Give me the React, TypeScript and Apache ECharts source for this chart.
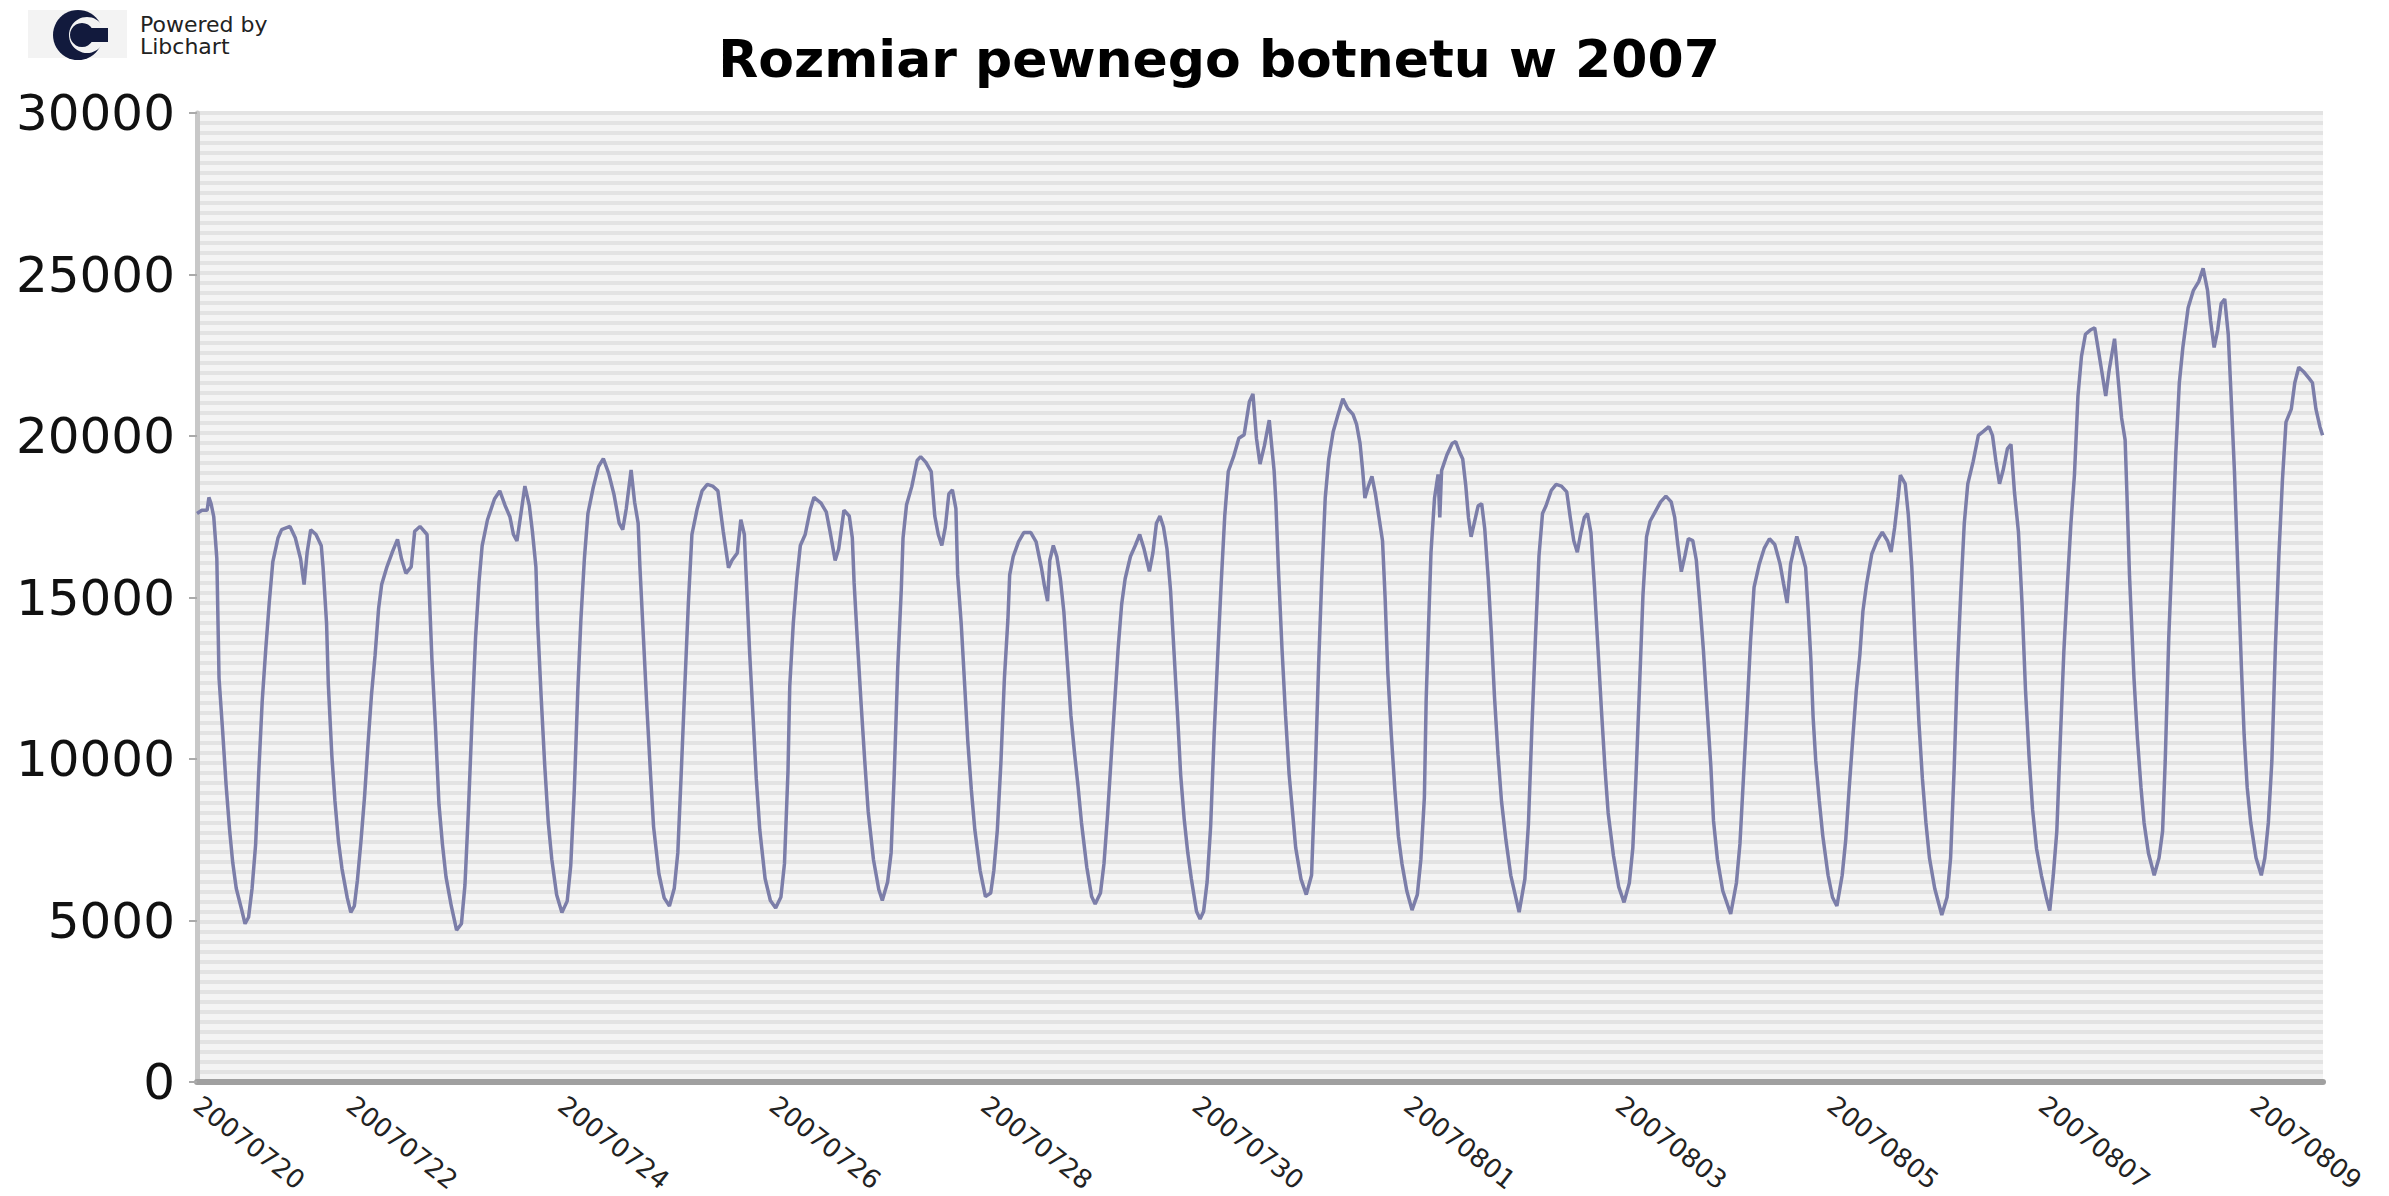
import React, { useEffect, useRef } from 'react';
import * as echarts from 'echarts';

// hours since 2007-07-20 00:00
const sampleHours = [
  13.3, 14.4, 15.6, 16.0, 16.5, 17.1, 17.8, 18.3, 19.1, 19.9, 20.7, 21.4, 22.2, 23.4, 24.2, 25.0, 25.8, 26.6, 27.3, 28.1,
  28.9, 29.7, 30.5, 31.7, 32.5, 34.4, 35.6, 36.8, 37.6, 38.3, 39.1, 40.3, 41.5, 41.9, 42.7, 43.1, 43.9, 44.6, 45.4, 46.2,
  47.4, 48.2, 49.0, 49.7, 50.5, 51.3, 52.1, 52.9, 53.7, 54.5, 55.2, 56.4, 57.6, 58.8, 59.7, 60.7, 61.9, 62.7, 63.9, 65.5,
  65.9, 66.6, 67.4, 68.2, 69.0, 69.8, 71.0, 72.2, 73.3, 74.1, 74.9, 75.7, 76.5, 77.3, 78.0, 79.2, 80.8, 82.0, 83.2, 84.3,
  85.1, 85.9, 86.7, 87.7, 88.7, 89.4, 90.2, 90.6, 91.4, 92.2, 93.0, 93.8, 94.9, 96.1, 97.3, 98.1, 98.9, 99.7, 100.4, 101.2,
  102.0, 103.2, 104.4, 105.5, 106.7, 107.9, 109.1, 109.9, 110.7, 111.8, 112.6, 113.4, 113.8, 114.6, 115.4, 116.2, 116.9, 118.1, 119.3, 120.5,
  121.6, 122.4, 123.2, 124.0, 124.8, 125.6, 126.8, 127.9, 129.1, 130.3, 131.5, 132.7,
  133.9, 134.7, 135.9, 136.7, 137.5, 137.9, 138.7, 139.5, 140.2, 141.0, 142.2, 143.4, 144.6, 145.8, 146.6, 147.4, 147.8, 148.6,
  149.4, 150.2, 151.3, 152.5, 153.3, 154.9, 156.1, 156.9, 158.1, 158.9, 160.1, 161.3, 162.0, 162.4, 163.2, 164.0, 164.8, 165.6,
  166.8, 168.0, 168.8, 170.0, 170.8, 171.5, 172.3, 173.1, 173.5, 174.3, 175.5, 176.7, 177.5, 178.7, 179.9, 180.7, 181.5, 182.3,
  183.1, 183.9, 184.7, 185.5, 185.9, 186.7, 187.5, 188.2, 189.0, 189.8, 191.0, 192.2, 193.4, 194.1, 194.9, 195.7, 196.5, 197.3,
  197.7, 198.5, 199.7, 200.9, 202.5, 203.7, 204.9, 205.6, 206.3, 206.8, 207.6, 208.4, 209.2, 210.0, 210.8, 211.6, 212.4, 213.2,
  214.0, 215.2, 216.3, 217.1, 218.3, 219.1, 219.9, 220.7, 221.5, 222.3, 223.1, 223.9, 225.1, 226.2, 227.2, 228.2, 229.4, 230.2,
  231.0, 231.8, 232.6, 233.4, 234.2, 235.0, 235.8, 236.5, 237.3, 238.1, 238.9, 240.1, 240.9, 241.7, 242.5, 243.3, 244.1, 244.9,
  245.7, 246.5, 247.3, 248.5, 249.7, 250.9, 252.1, 252.9, 253.7, 254.5, 255.5,
  256.6, 257.1, 257.7, 258.1, 258.7, 259.5, 260.3, 261.1, 261.9, 262.6, 263.8, 265.0, 266.2, 267.0, 267.8, 268.5, 269.3, 270.1,
  271.1, 272.1, 273.3, 274.4, 275.6, 276.4, 277.2, 277.8, 278.3, 279.1, 279.9, 280.7, 281.5, 282.3, 282.9, 283.5, 284.3, 285.1,
  285.9, 286.7, 287.8, 289.0, 290.2, 291.0, 291.8, 292.2, 292.8, 293.3, 294.1, 294.9, 295.3, 295.7, 296.9, 298.1, 298.9, 299.7,
  300.5, 301.2, 301.8, 302.4, 303.2, 304.0, 304.8, 305.5, 306.3, 307.0, 307.7, 308.5, 309.3, 310.3, 311.4, 313.3, 314.6, 315.4,
  316.2, 317.0, 317.8, 318.6, 319.4, 320.6, 321.7, 322.9, 324.1, 324.9, 325.7, 326.5, 327.3, 328.1, 328.8, 329.6, 330.4, 331.2,
  332.0, 332.8, 333.5, 334.7, 335.9, 337.1, 338.3, 339.1, 339.8, 340.6, 341.4, 342.2, 343.0, 344.2, 345.4, 346.6, 347.8, 348.6,
  349.3, 350.1, 350.9, 351.7, 352.7, 353.5, 354.3, 355.1, 356.0, 356.8, 357.4, 358.3, 359.5, 361.3, 362.6, 363.4, 364.2, 365.0,
  365.8, 366.6, 367.8, 368.9, 370.1, 371.3, 372.5, 373.3, 374.1, 374.9,
  376.3, 377.5, 378.3, 378.9, 379.5, 380.0, 380.6, 381.4, 382.2, 383.4, 384.4, 385.4, 386.6, 387.4, 388.2, 389.0, 389.8, 390.6,
  391.3, 392.1, 393.3, 394.5, 395.7, 396.9, 397.7, 398.5, 399.3, 399.8, 400.9, 401.6, 402.4, 403.2, 404.0, 404.8, 405.6, 406.4,
  407.6, 409.2, 410.4, 411.2, 412.0, 412.7, 413.5, 414.3, 415.1, 416.3, 417.5, 418.7, 419.9, 420.7, 421.5, 422.3, 423.1, 424.1,
  424.9, 425.7, 426.6, 427.4, 428.2, 429.0, 429.8, 430.7, 431.8, 432.9, 433.7, 434.5, 435.3, 436.1, 436.9, 437.7, 438.5, 439.3,
  440.1, 440.9, 441.8, 442.9, 443.9, 444.8, 445.6, 446.4, 447.2, 448.4, 449.2, 450.0, 450.8, 451.2, 451.8, 452.8, 453.6, 454.4,
  455.1, 456.1, 457.4, 458.5, 459.3, 459.9, 460.7, 461.5, 462.3, 463.1, 463.9, 465.1, 466.3, 467.5, 468.5, 469.5, 470.2, 471.0,
  471.8, 472.6, 473.4, 474.2, 474.8, 475.6, 476.4, 477.2, 477.8, 478.5, 479.3, 480.5, 481.7, 482.5, 483.3, 484.1, 484.9, 485.7,
  486.5, 487.3, 488.5, 489.3, 490.2, 491.3, 492.5, 493.3, 494.1, 495.0, 495.6,
];

// botnet size at each sample
const botnetSize = [
  17600, 17700, 17700, 18100, 17900, 17500, 16200, 12500, 10900, 9200, 7800, 6800, 6000, 5350, 4900, 5100, 6000, 7350, 9550, 11800,
  13400, 14850, 16100, 16850, 17100, 17200, 16850, 16200, 15400, 16400, 17100, 16950, 16600, 15950, 14200, 12300, 10100, 8700, 7450, 6600,
  5700, 5250, 5450, 6250, 7450, 8800, 10450, 12000, 13200, 14650, 15400, 15950, 16400, 16800, 16200, 15750, 15950, 17050, 17200, 16950,
  15500, 13100, 11000, 8600, 7350, 6350, 5450, 4700, 4900, 6100, 8450, 11200, 13750, 15500, 16600, 17400, 18050, 18300, 17850, 17500,
  16950, 16750, 17500, 18450, 17850, 17050, 15950, 14200, 11900, 9800, 8050, 6900, 5800, 5250, 5600, 6700, 9000, 12100, 14300, 16200,
  17600, 18400, 19050, 19300, 18850, 18200, 17300, 17100, 17750, 18950, 17950, 17300, 15950, 13750, 11550, 9550, 7900, 6450, 5700, 5450,
  6000, 7100, 9650, 12300, 14850, 16950, 17750, 18300, 18500, 18450, 18300, 17050,
  15920, 16150, 16380, 17410, 16950, 15700, 13290, 11230, 9400, 7800, 6300, 5620, 5390, 5730, 6760, 9630, 12260, 14200,
  15580, 16610, 16950, 17750, 18100, 17925, 17640, 17070, 16150, 16500, 17700, 17525, 16840, 15460, 13520, 11690, 9970, 8370,
  6880, 5960, 5620, 6190, 7100, 9510, 12830, 15230, 16840, 17870, 18440, 19240, 19360, 19185, 18900, 17525, 16950, 16610,
  17180, 18210, 18330, 17750, 15700, 14200, 12260, 10540, 9050, 7800, 6540, 5740, 5850, 6540, 7800, 9860, 12490, 14320,
  15700, 16270, 16720, 17010, 17010, 16720, 15920, 15350, 14890, 16150, 16610, 16270, 15580, 14550, 12950, 11340, 10200, 9170,
  8020, 6650, 5740, 5510, 5850, 6760, 8250, 9970, 11690, 13400, 14780, 15580, 16270, 16610, 16950, 16500, 15810, 16380,
  17300, 17525, 17180, 16500, 15230, 13290, 11340, 9510, 8140, 7110, 6310, 5280, 5050, 5280, 6190, 7910, 10770, 13180,
  15460, 17525, 18900, 19360, 19930, 20040, 21070, 21300, 19930, 19130, 19700,
  20490, 19770, 18930, 17960, 15800, 13390, 11340, 9540, 8330, 7250, 6280, 5800, 6400, 9420, 12900, 15560, 18080, 19290,
  20130, 20610, 21150, 20850, 20670, 20370, 19770, 18930, 18080, 18450, 18750, 18200, 17480, 16760, 14950, 12670, 10740, 9050,
  7610, 6770, 5920, 5320, 5800, 6890, 8810, 11820, 14350, 16400, 18080, 18810, 17480, 18930, 19410, 19770, 19830, 19530,
  19290, 18450, 17480, 16880, 17360, 17840, 17900, 17120, 15560, 13870, 11940, 10140, 8690, 7490, 6400, 5260, 6280, 7970,
  10980, 13750, 16280, 17600, 17840, 18320, 18500, 18450, 18270, 17480, 16760, 16400, 17000, 17480, 17600, 17000, 15310, 13390,
  11460, 9660, 8330, 7010, 6040, 5560, 6160, 7250, 9420, 12180, 15080, 16880, 17360, 17660, 17960, 18140, 17960, 17480,
  16640, 15800, 16280, 16820, 16760, 16160, 14830, 13390, 11460, 9780, 8090, 6890, 5920, 5200, 6160, 7370, 9420, 11460,
  13630, 15310, 16040, 16520, 16820, 16640, 16040, 15430, 14830, 16040,
  16890, 16340, 15930, 14570, 13070, 11300, 9940, 8710, 7620, 6400, 5720, 5450, 6400, 7490, 9120, 10620, 12120, 13210,
  14570, 15390, 16340, 16750, 17020, 16750, 16410, 17160, 18110, 18790, 18520, 17570, 15930, 13480, 11160, 9400, 8030, 6940,
  5990, 5170, 5720, 6940, 9670, 12660, 15120, 17290, 18520, 19200, 20020, 20150, 20290, 20020, 19200, 18520, 18930, 19610,
  19740, 18250, 17020, 14840, 12120, 10080, 8440, 7220, 6400, 5720, 5310, 6400, 7760, 10620, 13340, 15390, 17290, 18790,
  21240, 22470, 23150, 23280, 23350, 22600, 21920, 21240, 22060, 23010, 21790, 20560, 19880, 18250, 15660, 12530, 10620, 9120,
  8030, 7080, 6400, 6940, 7760, 9940, 13750, 16480, 19470, 21650, 22740, 23970, 24510, 24780, 25190, 24510, 23560, 22740,
  23280, 24100, 24240, 23150, 21380, 18930, 15790, 12800, 10760, 9120, 8030, 6940, 6400, 6940, 8030, 9940, 13480, 16340,
  18650, 20430, 20830, 21650, 22130, 21990, 21790, 21650, 20830, 20290, 20020,
];

const labelHours = [13.3, 48, 96, 144, 192, 240, 288, 336, 384, 432, 480];
const dateLabels = [
  '20070720', '20070722', '20070724', '20070726', '20070728', '20070730',
  '20070801', '20070803', '20070805', '20070807', '20070809',
];

const FONT = 'DejaVu Sans';

export default function App() {
  const ref = useRef<HTMLDivElement>(null);

  useEffect(() => {
    if (!ref.current) return;
    const chart = echarts.init(ref.current, null, { renderer: 'svg' });
    const data = sampleHours.map((h, i) => [h, botnetSize[i]]);
    chart.setOption({
      animation: false,
      backgroundColor: '#ffffff',
      title: {
        text: 'Rozmiar pewnego botnetu w 2007',
        left: 1214,
        top: 28,
        textAlign: 'center',
        textStyle: { fontFamily: FONT, fontWeight: 'bold', fontSize: 52, color: '#000000' },
      },
      grid: {
        left: 197, right: 66, top: 113, bottom: 114,
        show: true, backgroundColor: '#f4f4f4', borderWidth: 0,
      },
      xAxis: {
        type: 'value',
        min: 13.3,
        max: 495.7,
        axisLine: { show: true, onZero: false, lineStyle: { color: '#a0a0a0', width: 6 } },
        axisTick: { show: false },
        splitLine: { show: false },
        axisLabel: {
          customValues: labelHours,
          formatter: (v: number) => {
            const i = labelHours.findIndex((h) => Math.abs(h - v) < 0.01);
            return i >= 0 ? dateLabels[i] : '';
          },
          rotate: -38,
          margin: 20,
          fontSize: 26,
          fontFamily: FONT,
          color: '#222222',
          hideOverlap: false,
        },
      },
      yAxis: [
        {
          type: 'value',
          min: 0,
          max: 30000,
          interval: 5000,
          axisLine: { show: true, lineStyle: { color: '#c8c8c8', width: 5 } },
          axisTick: { show: true, length: 8, lineStyle: { color: '#aaaaaa', width: 2 } },
          splitLine: { show: false },
          axisLabel: {
            fontSize: 50, fontFamily: FONT, color: '#111111', margin: 22,
            formatter: (v: number) => String(v),
          },
        },
        {
          type: 'value',
          min: 0,
          max: 97,
          interval: 1,
          position: 'right',
          axisLine: { show: false },
          axisTick: { show: false },
          axisLabel: { show: false },
          splitLine: { show: true, lineStyle: { color: '#e3e3e3', width: 4 } },
        },
      ],
      series: [
        {
          type: 'line',
          yAxisIndex: 0,
          data,
          showSymbol: false,
          symbol: 'none',
          lineStyle: { color: '#7c7ea9', width: 3.5 },
        },
      ],
      graphic: [
        { type: 'rect', z: 100, shape: { x: 28, y: 10, width: 99, height: 48 }, style: { fill: '#f3f3f3' } },
        { type: 'circle', z: 101, shape: { cx: 78, cy: 35, r: 25 }, style: { fill: '#121a3d' } },
        { type: 'circle', z: 102, shape: { cx: 87, cy: 35, r: 18 }, style: { fill: '#f3f3f3' } },
        { type: 'circle', z: 103, shape: { cx: 82, cy: 35, r: 12 }, style: { fill: '#121a3d' } },
        { type: 'rect', z: 103, shape: { x: 89, y: 28, width: 19, height: 14 }, style: { fill: '#121a3d' } },
        {
          type: 'text', z: 104, left: 140, top: 13,
          style: { text: 'Powered by', fontFamily: FONT, fontSize: 22, fill: '#222222' },
        },
        {
          type: 'text', z: 104, left: 140, top: 35,
          style: { text: 'Libchart', fontFamily: FONT, fontSize: 22, fill: '#222222' },
        },
      ],
    });
    return () => chart.dispose();
  }, []);

  return (
    <div
      ref={ref}
      style={{ position: 'absolute', left: 0, top: 0, width: 2389, height: 1196 }}
    />
  );
}
